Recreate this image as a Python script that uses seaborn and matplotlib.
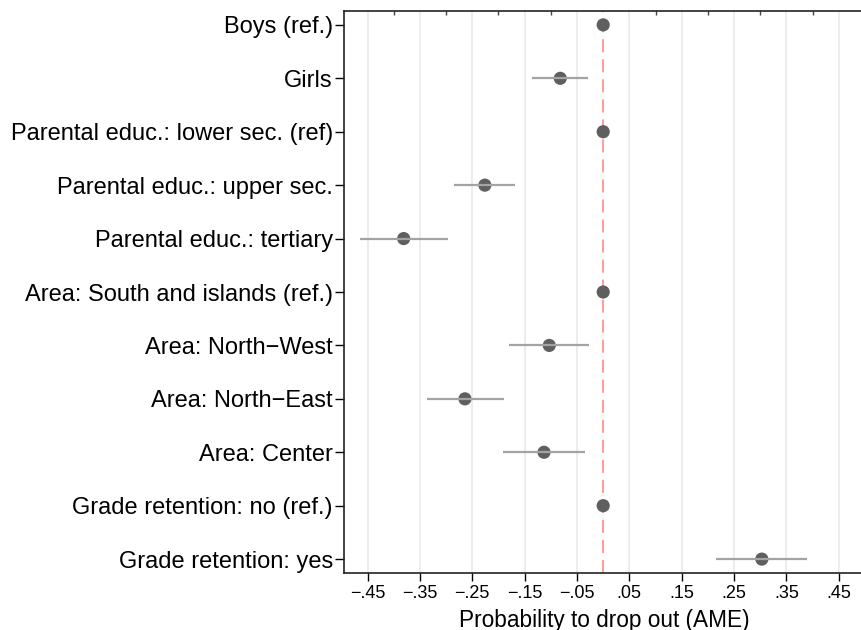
import matplotlib.pyplot as plt
import numpy as np
import pandas as pd
import seaborn as sns

labels = [
    "Boys (ref.)",
    "Girls",
    "Parental educ.: lower sec. (ref)",
    "Parental educ.: upper sec.",
    "Parental educ.: tertiary",
    "Area: South and islands (ref.)",
    "Area: North\u2212West",
    "Area: North\u2212East",
    "Area: Center",
    "Grade retention: no (ref.)",
    "Grade retention: yes",
]
ame = [0.0, -0.082, 0.0, -0.226, -0.381, 0.0, -0.103, -0.264, -0.113, 0.0, 0.303]
ci_low = [0.0, -0.136, 0.0, -0.284, -0.465, 0.0, -0.180, -0.337, -0.191, 0.0, 0.216]
ci_high = [0.0, -0.029, 0.0, -0.169, -0.296, 0.0, -0.027, -0.189, -0.034, 0.0, 0.389]

x_ticks = [-0.45, -0.35, -0.25, -0.15, -0.05, 0.05, 0.15, 0.25, 0.35, 0.45]
x_minor = [-0.40, -0.30, -0.20, -0.10, 0.10, 0.20, 0.30, 0.40]


def stata_fmt(v):
    s = f"{abs(v):.2f}".lstrip("0")
    return ("\u2212" if v < 0 else "") + s


df = pd.DataFrame({"label": labels, "ame": ame, "lo": ci_low, "hi": ci_high})
df["pos"] = np.arange(len(df))

sns.set_style("white")
plt.rcParams["font.family"] = ["Liberation Sans", "DejaVu Sans"]
plt.rcParams["text.color"] = "black"
plt.rcParams["xtick.color"] = "black"
plt.rcParams["ytick.color"] = "black"
plt.rcParams["axes.labelcolor"] = "black"

fig = plt.figure(figsize=(8.61, 6.30), dpi=100)
ax = fig.add_axes([344 / 861, 1 - 573 / 630, 521 / 861, 562 / 630])

# grid at the labelled ticks
for t in x_ticks:
    ax.axvline(t, color="#ececec", lw=1.3, zorder=0)

# zero reference line
ax.axvline(0, color="#ff9a9a", lw=1.4, ls=(0, (6.7, 3.6)), zorder=1)

sns.scatterplot(data=df, x="ame", y="pos", ax=ax, color="#5f5f5f", s=90,
                edgecolor="none", zorder=2, legend=False)

# confidence intervals (drawn over the markers, as in Stata)
ax.hlines(df["pos"], df["lo"], df["hi"], color="#a3a3a3", lw=1.6, zorder=3)

ax.set_xlim(-0.495, 0.5)
ax.set_ylim(len(df) - 1 + 0.26, -0.26)

ax.set_yticks(df["pos"])
ax.set_yticklabels(labels, fontsize=17)
ax.set_xticks(x_ticks)
ax.set_xticklabels([stata_fmt(v) for v in x_ticks], fontsize=13)
ax.set_xlabel("Probability to drop out (AME)", fontsize=16.3, labelpad=5)
ax.set_ylabel("")

ax.tick_params(axis="y", direction="out", length=6.5, width=1, pad=1.5, left=True)
ax.tick_params(axis="x", direction="out", length=6, width=1, pad=2.5, bottom=True)

# small marks on the top edge between the labelled ticks
top = ax.secondary_xaxis("top")
top.set_xticks(x_minor)
top.set_xticklabels([])
top.tick_params(direction="in", length=3, width=1, color="#444444")
top.spines["top"].set_visible(False)

for side in ["left", "bottom", "top"]:
    ax.spines[side].set_color("#222222")
    ax.spines[side].set_linewidth(1.2)
ax.spines["right"].set_visible(False)

fig.savefig("out.png", dpi=100)
